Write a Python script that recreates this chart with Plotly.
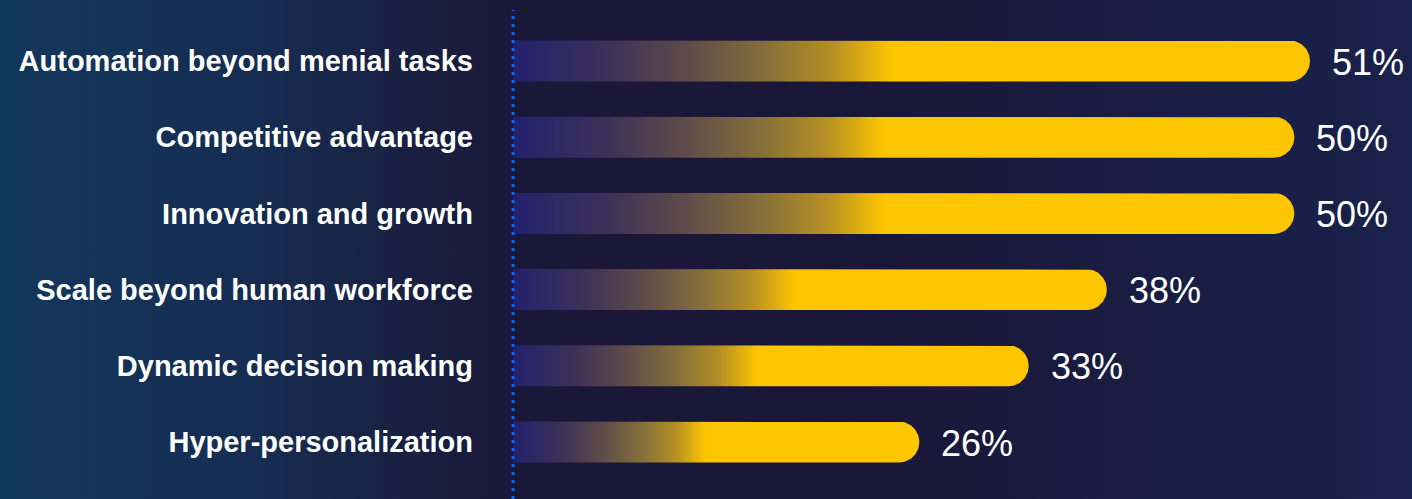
import numpy as np
import plotly.graph_objects as go

categories = [
    "Automation beyond menial tasks",
    "Competitive advantage",
    "Innovation and growth",
    "Scale beyond human workforce",
    "Dynamic decision making",
    "Hyper-personalization",
]
values = [51, 50, 50, 38, 33, 26]
value_labels = ["51%", "50%", "50%", "38%", "33%", "26%"]

W, H = 1412, 499
x_dom = [513 / W, 1.0]
y_dom = [1 - 480.1 / H, 1 - 22.9 / H]
x_max = 57.53
n = len(categories)
px_x = (x_dom[1] - x_dom[0]) * W / x_max
px_y = (y_dom[1] - y_dom[0]) * H / n
half_px = 20.5
hy = half_px / px_y
rx = half_px / px_x

bar_scale = [
    [0.0, "#22216e"], [0.12, "#3d3158"], [0.22, "#5e4b4a"], [0.32, "#86703a"],
    [0.40, "#b48f24"], [0.475, "#fec600"], [1.0, "#fec600"],
]
bg_scale = [
    [0.0, "#12385c"], [0.18, "#162c51"], [0.36, "#1a1838"], [0.6, "#1a1638"], [1.0, "#19224b"],
]

fig = go.Figure()

# background
fig.add_trace(go.Scatter(
    x=[0, 1, 1, 0, 0], y=[0, 0, 1, 1, 0], mode="lines", fill="toself",
    line=dict(width=0), fillgradient=dict(type="horizontal", colorscale=bg_scale),
    hoverinfo="skip", showlegend=False, xaxis="x", yaxis="y",
))

theta = np.linspace(-np.pi / 2, np.pi / 2, 40)
for i, (cat, v) in enumerate(zip(categories, values)):
    cx = v - rx
    xs = [0, cx] + list(cx + rx * np.cos(theta)) + [cx, 0, 0]
    ys = [i - hy, i - hy] + list(i + hy * np.sin(theta)) + [i + hy, i + hy, i - hy]
    fig.add_trace(go.Scatter(
        x=xs, y=ys, mode="lines", fill="toself", line=dict(width=0),
        fillgradient=dict(type="horizontal", colorscale=bar_scale),
        hoverinfo="skip", showlegend=False, xaxis="x2", yaxis="y2", name=cat,
    ))

annotations = [
    dict(x=v, y=i, xref="x2", yref="y2", text=t, showarrow=False,
         xanchor="left", yanchor="middle", xshift=20, yshift=-1,
         font=dict(family="Arial, Liberation Sans, sans-serif", size=36, color="#ffffff"))
    for i, (v, t) in enumerate(zip(values, value_labels))
]

fig.update_layout(
    width=W, height=H,
    margin=dict(l=0, r=0, t=0, b=0),
    paper_bgcolor="#171b3e", plot_bgcolor="rgba(0,0,0,0)",
    xaxis=dict(domain=[0, 1], range=[0, 1], visible=False, fixedrange=True),
    yaxis=dict(domain=[0, 1], range=[0, 1], visible=False, fixedrange=True),
    xaxis2=dict(domain=x_dom, range=[0, x_max], visible=False, anchor="y2"),
    yaxis2=dict(
        domain=y_dom, range=[n - 0.5, -0.5], anchor="x2",
        tickvals=list(range(n)), ticktext=categories,
        showgrid=False, zeroline=False, showline=False, ticks="",
        ticklabelstandoff=39,
        tickfont=dict(family="Arial, Liberation Sans, sans-serif", size=29, color="#ffffff", weight=700),
    ),
    shapes=[dict(
        type="line", xref="paper", yref="paper", x0=x_dom[0], x1=x_dom[0], y0=0, y1=1 - 10 / H,
        line=dict(color="#0a66ff", width=3, dash="3px,5px"),
    )],
    annotations=annotations,
    showlegend=False,
)

fig.write_html(
    "out.html",
    config={"displayModeBar": False, "staticPlot": True},
    post_script="document.body.style.margin='0';document.body.style.overflow='hidden';",
)
